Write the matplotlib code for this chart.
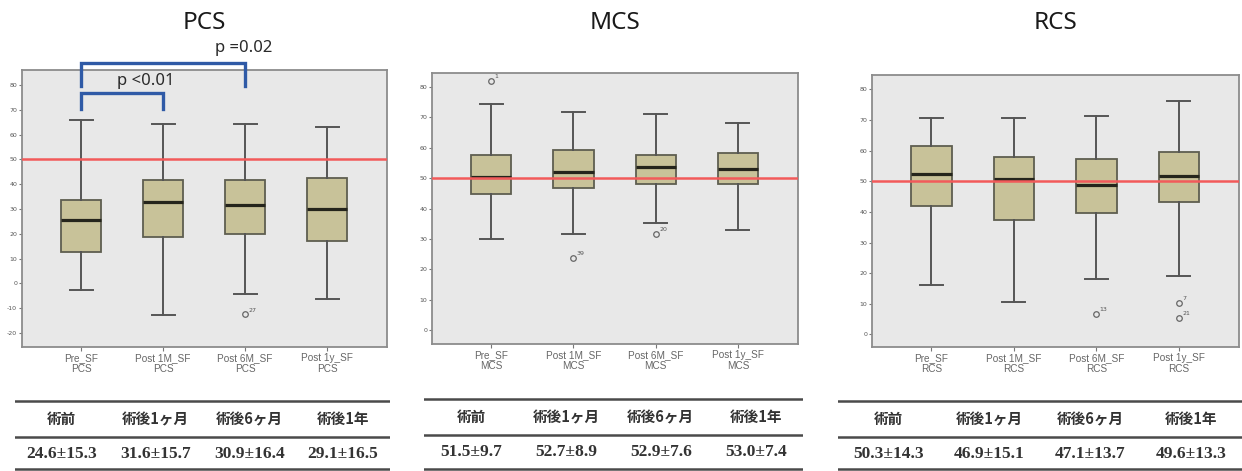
import matplotlib.pyplot as plt

plt.rcParams['font.family'] = ['DejaVu Sans']
plt.rcParams['axes.unicode_minus'] = False

# data
labels = ['Pre_SF', 'Post 1M_SF', 'Post 6M_SF', 'Post 1y_SF']
heads = ['術前', '術後1ヶ月', '術後6ヶ月', '術後1年']

pcs_med = [25.7, 32.7, 31.6, 30.2]
pcs_q1 = [12.6, 18.9, 20.1, 17.0]
pcs_q3 = [33.8, 41.8, 41.6, 42.5]
pcs_lo = [-2.8, -12.9, -4.3, -6.4]
pcs_hi = [65.7, 64.2, 64.3, 62.9]
pcs_out = [[], [], [(-12.5, '27')], []]
pcs_tab = ['24.6±15.3', '31.6±15.7', '30.9±16.4', '29.1±16.5']

mcs_med = [50.5, 52.2, 53.7, 53.2]
mcs_q1 = [44.7, 46.7, 48.2, 48.0]
mcs_q3 = [57.7, 59.2, 57.7, 58.3]
mcs_lo = [30.1, 31.7, 35.2, 33.0]
mcs_hi = [74.4, 71.7, 71.1, 68.2]
mcs_out = [[(82.0, '1')], [(23.9, '39')], [(31.8, '20')], []]
mcs_tab = ['51.5±9.7', '52.7±8.9', '52.9±7.6', '53.0±7.4']

rcs_med = [52.4, 50.9, 48.9, 51.7]
rcs_q1 = [42.0, 37.4, 39.6, 43.2]
rcs_q3 = [61.5, 57.8, 57.2, 59.4]
rcs_lo = [16.2, 10.7, 18.1, 19.2]
rcs_hi = [70.7, 70.5, 71.3, 76.3]
rcs_out = [[], [], [(6.8, '13')], [(10.4, '7'), (5.3, '21')]]
rcs_tab = ['50.3±14.3', '46.9±15.1', '47.1±13.7', '49.6±13.3']

# brackets on PCS: (from, to, top, leg bottom, text, text x, text y)
brackets = [(0, 1, 76.7, 70.2, 'p <0.01', 0.79, 81.7),
            (0, 2, 89.0, 79.4, 'p =0.02', 1.98, 94.9)]

panels = [
    ('PCS', pcs_med, pcs_q1, pcs_q3, pcs_lo, pcs_hi, pcs_out, pcs_tab,
     (-25.6, 86), range(-20, 81, 10),
     [0.0177, 0.2633, 0.2939, 0.588], [15, 390, 401]),
    ('MCS', mcs_med, mcs_q1, mcs_q3, mcs_lo, mcs_hi, mcs_out, mcs_tab,
     (-4.5, 84.6), range(0, 81, 10),
     [0.3478, 0.2696, 0.2947, 0.5754], [424, 803, 399]),
    ('RCS', rcs_med, rcs_q1, rcs_q3, rcs_lo, rcs_hi, rcs_out, rcs_tab,
     (-4.1, 84.7), range(0, 81, 10),
     [0.7021, 0.2633, 0.2955, 0.5775], [838, 1242, 401]),
]

W, H = 1242, 471
fig = plt.figure(figsize=(W / 100, H / 100), dpi=100)

for name, med, q1, q3, lo, hi, outs, tab, ylim, yt, pos, tpos in panels:
    ax = fig.add_axes(pos)
    ax.set_facecolor('#e8e8e8')
    stats = []
    for i in range(4):
        stats.append(dict(med=med[i], q1=q1[i], q3=q3[i], whislo=lo[i],
                          whishi=hi[i], fliers=[o[0] for o in outs[i]]))
    ax.bxp(stats, positions=range(4), widths=0.49, capwidths=0.28,
           patch_artist=True,
           boxprops=dict(facecolor='#c8c299', edgecolor='#5e5e50', linewidth=1.3),
           medianprops=dict(color='#25251c', linewidth=2.3),
           whiskerprops=dict(color='#555555', linewidth=1.4),
           capprops=dict(color='#555555', linewidth=1.4),
           flierprops=dict(marker='o', markerfacecolor='none',
                           markeredgecolor='#666666', markersize=4, markeredgewidth=0.9))
    for i in range(4):
        for v, lab in outs[i]:
            ax.annotate(lab, (i, v), xytext=(2.5, 2), textcoords='offset points',
                        fontsize=4.5, color='#555555')
    ax.axhline(50, color='#f25a5a', linewidth=1.8, zorder=5)
    ax.set_xlim(-0.72, 3.73)
    ax.set_ylim(*ylim)
    ax.set_yticks(list(yt))
    ax.set_xticks(range(4))
    ax.set_xticklabels([l + '\n' + name for l in labels], fontsize=7.2,
                       color='#666666', linespacing=1.05,
                       family=['Liberation Sans', 'DejaVu Sans'])
    ax.tick_params(axis='y', labelsize=4.5, labelcolor='#555555', length=2.5,
                   color='#777777', pad=1)
    ax.tick_params(axis='x', length=3, color='#777777', pad=1.5)
    for s in ax.spines.values():
        s.set_color('#8c8c8c')
        s.set_linewidth(1.3)

    p = ax.get_position()
    fig.text(p.x0 + p.width / 2, 1 - 23 / H, name, ha='center', va='center',
             fontsize=17.5, color='#1a1a1a', family=['Noto Sans', 'DejaVu Sans'])

    if name == 'PCS':
        for a, b, top, bot, txt, tx, ty in brackets:
            ax.plot([a, a, b, b], [bot, top, top, bot], color='#2f5aa6',
                    linewidth=2.4, clip_on=False, zorder=6,
                    solid_joinstyle='miter')
            ax.text(tx, ty, txt, ha='center', va='center', fontsize=12,
                    color='#2a2a2a', clip_on=False, fontweight='medium',
                    family=['Noto Sans', 'DejaVu Sans'])

    # summary table under each panel
    x0, x1, ytop = tpos
    tax = fig.add_axes([x0 / W, 0, (x1 - x0) / W, 1 - (ytop - 6) / H])
    tax.set_xlim(0, 1)
    tax.set_ylim(H, ytop - 6)
    tax.axis('off')
    for yy in (ytop, ytop + 36, 469):
        tax.axhline(yy, color='#4a4a4a', linewidth=1.8)
    for i in range(4):
        tax.text((i + 0.5) / 4, ytop + 18, heads[i], ha='center', va='center',
                 fontsize=10.5, fontweight='bold', color='#333333',
                 family=['Noto Sans CJK JP', 'DejaVu Sans'])
        tax.text((i + 0.5) / 4, ytop + 53, tab[i], ha='center', va='center',
                 fontsize=12.5, fontweight='bold', color='#333333',
                 family=['Liberation Serif', 'DejaVu Serif'])

fig.savefig('out.png', dpi=100)
